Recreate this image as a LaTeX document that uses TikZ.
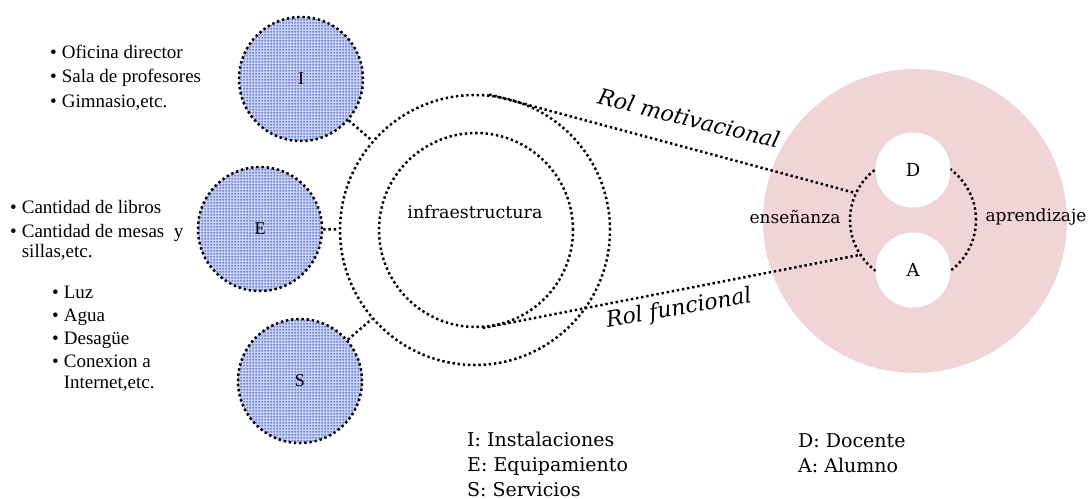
\documentclass[tikz,border=0pt]{standalone}
\usepackage{fontspec}
\setmainfont{Liberation Serif}
\newfontfamily\geo{DejaVu Serif}
\usetikzlibrary{patterns}

% small blue dashes laid out on a square grid
\pgfdeclarepatternformonly{bluegrid}{\pgfqpoint{0pt}{0pt}}{\pgfqpoint{3pt}{3pt}}{\pgfqpoint{3pt}{3pt}}{%
  \pgfpathrectangle{\pgfqpoint{0.5pt}{0.8pt}}{\pgfqpoint{2pt}{1.4pt}}\pgfusepath{fill}}

\definecolor{dotblue}{RGB}{58,86,200}
\definecolor{paleblue}{RGB}{200,209,242}
\definecolor{rosa}{RGB}{240,212,214}

\begin{document}
\begin{tikzpicture}[x=1pt,y=-1pt,
  dotline/.style={line width=2.5pt, dash pattern=on 2.4pt off 2.8pt},
  subcirc/.style={circle, inner sep=0pt, minimum size=124pt, draw, dotline,
    preaction={fill=paleblue}, pattern=bluegrid, pattern color=dotblue,
    font=\fontsize{18}{20}\selectfont},
  ring/.style={circle, inner sep=0pt, draw, dotline},
  actor/.style={circle, inner sep=0pt, minimum size=75pt, fill=white,
    font=\geo\fontsize{18}{20}\selectfont},
  bullets/.style={anchor=base west, inner sep=0pt, font=\fontsize{19}{24.5}\selectfont},
  legend/.style={anchor=base west, inner sep=0pt, font=\geo\fontsize{19}{25}\selectfont},
  word/.style={inner sep=1pt, font=\geo\fontsize{17}{20}\selectfont},
  rol/.style={inner sep=1pt, font=\geo\itshape\fontsize{22}{26}\selectfont}
]
\useasboundingbox (0,0) rectangle (1089,498);

% infrastructure rings
\node[ring, minimum size=270pt] (O) at (475,230) {};
\node[ring, minimum size=194pt] (N) at (476,230) {};
\node[word, font=\geo\fontsize{17.5}{20}\selectfont] (infra) at (475,212) {infraestructura};

% the three components
\node[subcirc] (I) at (301,79) {I};
\node[subcirc] (E) at (260,229) {E};
\node[subcirc] (S) at (300,381) {S};
\draw[dotline] (I) -- (O);
\draw[dotline] (E) -- (O);
\draw[dotline] (S) -- (O);

% item lists
\node[bullets] (l1) at (50,58) {\begin{tabular}[t]{@{}l@{\hspace{5pt}}l@{}}
\textbullet & Oficina director\\
\textbullet & Sala de profesores\\
\textbullet & Gimnasio,etc.
\end{tabular}};
\node[bullets] (l2) at (10,213) {\begin{tabular}[t]{@{}l@{\hspace{5pt}}l@{}}
\textbullet & Cantidad de libros\\
\textbullet & Cantidad de mesas \ y\\[-5pt]
 & sillas,etc.
\end{tabular}};
\node[bullets, font=\fontsize{19}{23}\selectfont] (l3) at (52,298) {\begin{tabular}[t]{@{}l@{\hspace{5pt}}l@{}}
\textbullet & Luz\\
\textbullet & Agua\\
\textbullet & Desagüe\\
\textbullet & Conexion a\\[-2pt]
 & Internet,etc.
\end{tabular}};

% teaching and learning
\node[circle, inner sep=0pt, minimum size=304pt, fill=rosa] (P) at (915,221) {};
\node[ring, minimum size=126pt] (R) at (913,220) {};
\node[actor] (D) at (913,170) {D};
\node[actor] (A) at (913,270) {A};
\node[word] (ens) at (795,217) {enseñanza};
\node[word] (apr) at (1036,217) {aprendizaje};

% roles
\draw[dotline] (O.84) -- (R.155);
\draw[dotline] (N.-86) -- (R.213);
\node[rol, rotate=-14] (rm) at (689,118) {Rol motivacional};
\node[rol, rotate=10] (rf) at (679,309) {Rol funcional};

% legends
\node[legend] (leg1) at (467,446) {\begin{tabular}[t]{@{}l@{}}
I: Instalaciones\\ E: Equipamiento\\ S: Servicios\end{tabular}};
\node[legend] (leg2) at (798,447) {\begin{tabular}[t]{@{}l@{}}
D: Docente\\ A: Alumno\end{tabular}};
\end{tikzpicture}
\end{document}
